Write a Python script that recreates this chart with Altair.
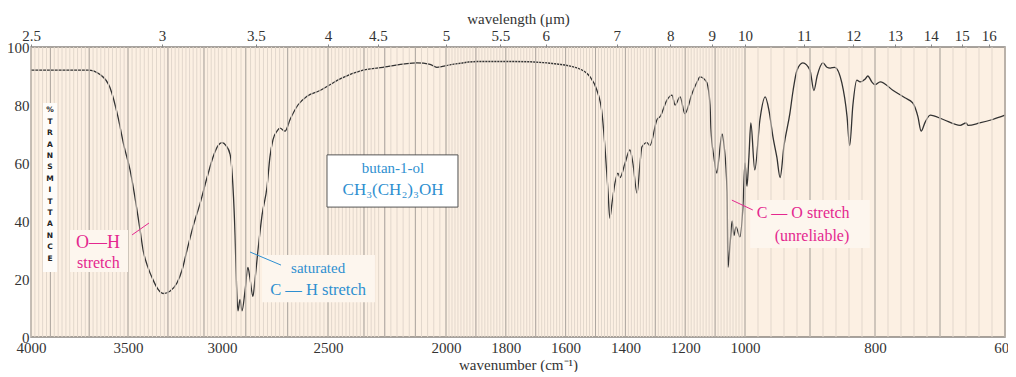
import altair as alt
import pandas as pd

# ---- spectrum (wavenumber cm-1, % transmittance) ----
wavenumber = [4000, 3706, 3644, 3593, 3552, 3521, 3490, 3441, 3426, 3402, 3377, 3353, 3327, 3289,
              3250, 3222, 3194, 3161, 3122, 3083, 3050, 3022, 3000, 2983, 2966, 2954, 2945, 2939,
              2933, 2924, 2916, 2903, 2891, 2882, 2870, 2861, 2847, 2827, 2802, 2788, 2773, 2753,
              2738, 2713, 2688, 2649, 2604, 2540, 2489, 2433, 2305, 2206, 2095, 2052, 2030, 1987,
              1896, 1776, 1662, 1562, 1518, 1495, 1478, 1468, 1458, 1452, 1445, 1435, 1425, 1418,
              1401, 1385, 1375, 1361, 1351, 1345, 1328, 1318, 1294, 1284, 1261, 1244, 1234, 1217,
              1201, 1177, 1157, 1151, 1137, 1127, 1117, 1114, 1104, 1094, 1087, 1077, 1070, 1060,
              1057, 1050, 1043, 1037, 1030, 1017, 1007, 1000, 997, 994, 991, 985, 977, 969, 963,
              957, 951, 946, 940, 931, 926, 920, 911, 900, 894, 889, 880, 874, 869, 862, 851, 843,
              839, 834, 828, 823, 815, 811, 805, 800, 792, 772, 754, 742, 734, 729, 723, 715, 695,
              669, 660, 657, 639, 619, 600]
transmittance = [92, 92, 90.5, 86, 76, 66, 57.6, 37, 30, 24, 19.7, 16.5, 15, 15.8,
                 18.6, 23, 30, 38, 46, 55, 62, 66, 67, 66, 63, 52, 35, 18,
                 9, 13, 9, 16, 24, 20, 14, 20, 30, 42, 52, 62, 68, 71,
                 72, 71, 75, 80, 83, 85, 87, 89, 92, 93, 94.5, 94, 93, 93.8,
                 95, 95, 94.5, 92.8, 89.7, 85, 77, 65, 50, 41, 46, 53, 56.5, 55,
                 60, 64.5, 60, 49.6, 60, 65.5, 67, 66, 75, 76, 81.7, 83.4, 80, 82.8,
                 77, 84, 88.6, 89.7, 89, 87.6, 80, 72, 62, 56.5, 62, 70, 66, 50,
                 24, 32, 40, 35, 38, 34.5, 44.8, 60, 52, 62, 73.8, 57.6, 75, 82.8, 78,
                 69, 62, 55, 66, 77, 85, 92, 94.5, 92, 85, 90, 94.5, 93, 92.7, 93, 87.6, 76,
                 66, 80, 88.6, 88, 89, 90, 88, 87, 88, 85, 82.5, 80.7, 76, 71, 74, 76.5, 75,
                 73, 73.8, 73, 73.8, 75, 76.5]

bottom_ticks = [4000, 3500, 3000, 2500, 2000, 1800, 1600, 1400, 1200, 1000, 800, 600]
wavelength_ticks = [2.5, 3, 3.5, 4, 4.5, 5, 5.5, 6, 7, 8, 9, 10, 11, 12, 13, 14, 15, 16]
percent_ticks = [0, 20, 40, 60, 80, 100]

fine_grid = list(range(4000, 2000, -20)) + list(range(2000, 1000, -10)) + list(range(1000, 599, -20))
major_grid = list(range(3900, 2200, -200)) + list(range(2200, 599, -100))

BG = "#fcf0e3"
FINE = "#e2d7cc"
MAJOR = "#aea7a0"
INK = "#333333"
MAGENTA = "#e4288f"
BLUE = "#2e8fd0"
SERIF = "Liberation Serif"

xs = alt.Scale(domain=[4000, 3500, 3333, 3000, 2857, 2500, 2222, 2000, 1000, 600],
               range=[0, 97, 131, 191, 225, 297, 347, 415, 714, 974], nice=False, zero=False)
ys = alt.Scale(domain=[0, 100], nice=False, zero=False)

spec = pd.DataFrame({"wn": wavenumber, "t": transmittance})

top_axis = alt.Axis(orient="top", values=[10000 / w for w in wavelength_ticks],
                    labelExpr="round(100000/datum.value)/10", title="wavelength (μm)",
                    labelFont=SERIF, labelFontSize=15, labelColor=INK, labelPadding=1,
                    titleFont=SERIF, titleFontSize=15, titleFontWeight="normal", titleColor=INK,
                    titlePadding=2, domain=False, ticks=True, tickSize=3, tickColor="#888",
                    grid=False, labelOverlap=False, labelFlush=False)
bottom_axis = alt.Axis(orient="bottom", values=bottom_ticks, format="d", title="wavenumber (cm⁻¹)",
                       labelFont=SERIF, labelFontSize=15, labelColor=INK, labelPadding=3,
                       titleFont=SERIF, titleFontSize=15, titleFontWeight="normal", titleColor=INK,
                       titlePadding=2, domain=False, ticks=False, grid=False,
                       labelOverlap=False, labelFlush=False)
left_axis = alt.Axis(values=percent_ticks, title=None, labelFont=SERIF, labelFontSize=15,
                     labelColor=INK, labelPadding=2, domain=False, ticks=False, grid=False)

fine = alt.Chart(pd.DataFrame({"wn": fine_grid})).mark_rule(color=FINE, strokeWidth=1).encode(
    x=alt.X("wn:Q", scale=xs, axis=top_axis))
major = alt.Chart(pd.DataFrame({"wn": major_grid})).mark_rule(color=MAJOR, strokeWidth=1).encode(
    x=alt.X("wn:Q", scale=xs, axis=None))

# light backgrounds behind labels
bg_boxes = pd.DataFrame({
    "x1": [3938, 3799, 2827, 992], "x2": [3866, 3500, 2239, 808],
    "y1": [80.7, 36.9, 28.3, 47.2], "y2": [22.4, 22.4, 12.0, 30.7],
    "fill": ["#fefcf9", "#fdf6ee", "#fdf6ee", "#fdf6ee"]})
boxes = alt.Chart(bg_boxes).mark_rect().encode(
    x=alt.X("x1:Q", scale=xs, axis=None), x2="x2:Q",
    y=alt.Y("y1:Q", scale=ys, axis=None), y2="y2:Q",
    fill=alt.Fill("fill:N", scale=None))

ylabel = alt.Chart(pd.DataFrame({"wn": [3902], "t": [79.5],
                                 "s": ["%|T|R|A|N|S|M|I|T|T|A|N|C|E"]})).mark_text(
    font="DejaVu Sans", fontWeight="bold", fontSize=7.5, lineBreak="|", lineHeight=11.4,
    baseline="top", align="center", color="#222").encode(
    x=alt.X("wn:Q", scale=xs, axis=None), y=alt.Y("t:Q", scale=ys, axis=None), text="s:N")

pointers = pd.DataFrame({
    "x1": [3480, 2882, 1044], "x2": [3397, 2733, 988],
    "y1": [35.2, 29.3, 47.2], "y2": [39.3, 24.8, 43.8],
    "c": [MAGENTA, BLUE, MAGENTA]})
ptr = alt.Chart(pointers).mark_rule(strokeWidth=1).encode(
    x=alt.X("x1:Q", scale=xs, axis=None), x2="x2:Q",
    y=alt.Y("y1:Q", scale=ys, axis=None), y2="y2:Q",
    color=alt.Color("c:N", scale=None))

line = alt.Chart(spec).mark_line(color=INK, strokeWidth=1.3, interpolate="monotone").encode(
    x=alt.X("wn:Q", scale=xs, axis=bottom_axis),
    y=alt.Y("t:Q", scale=ys, axis=left_axis))

name_box = alt.Chart(pd.DataFrame({"x1": [2505], "x2": [1960], "y1": [62.8], "y2": [44.8]})).mark_rect(
    fill="white", stroke="#555", strokeWidth=1).encode(
    x=alt.X("x1:Q", scale=xs, axis=None), x2="x2:Q",
    y=alt.Y("y1:Q", scale=ys, axis=None), y2="y2:Q")

labels = pd.DataFrame({
    "wn": [3768, 3763, 2549, 2549, 2173, 2173, 982, 897],
    "t": [32.4, 25.5, 23.8, 16.2, 58.3, 50.7, 42.8, 34.8],
    "s": ["O—H", "stretch", "saturated", "C — H stretch", "butan-1-ol", "CH₃(CH₂)₃OH",
          "C — O stretch", "(unreliable)"],
    "c": [MAGENTA, MAGENTA, BLUE, BLUE, BLUE, BLUE, MAGENTA, MAGENTA],
    "a": ["left", "left", "center", "center", "center", "center", "left", "center"],
    "fs": [18, 16, 15, 16.5, 15, 17, 16, 16],
})


def text_layer(df, align):
    return alt.Chart(df).mark_text(font=SERIF, baseline="middle", align=align).encode(
        x=alt.X("wn:Q", scale=xs, axis=None), y=alt.Y("t:Q", scale=ys, axis=None),
        text="s:N", color=alt.Color("c:N", scale=None),
        size=alt.Size("fs:Q", scale=None, legend=None))


left_txt = text_layer(labels[labels["a"] == "left"], "left")
center_txt = text_layer(labels[labels["a"] == "center"], "center")

chart = alt.layer(line, fine, major, boxes, ylabel, ptr, name_box, left_txt, center_txt).resolve_axis(
    x="independent", y="independent").properties(
    width=974, height=290,
    autosize=alt.AutoSizeParams(type="none"),
    padding={"left": 23, "top": 39, "right": 3, "bottom": 35},
    background="white",
).configure_view(fill=BG, stroke="#8a8580", strokeWidth=1.5)

chart.save("out.html", embed_options={"renderer": "svg", "actions": False})
